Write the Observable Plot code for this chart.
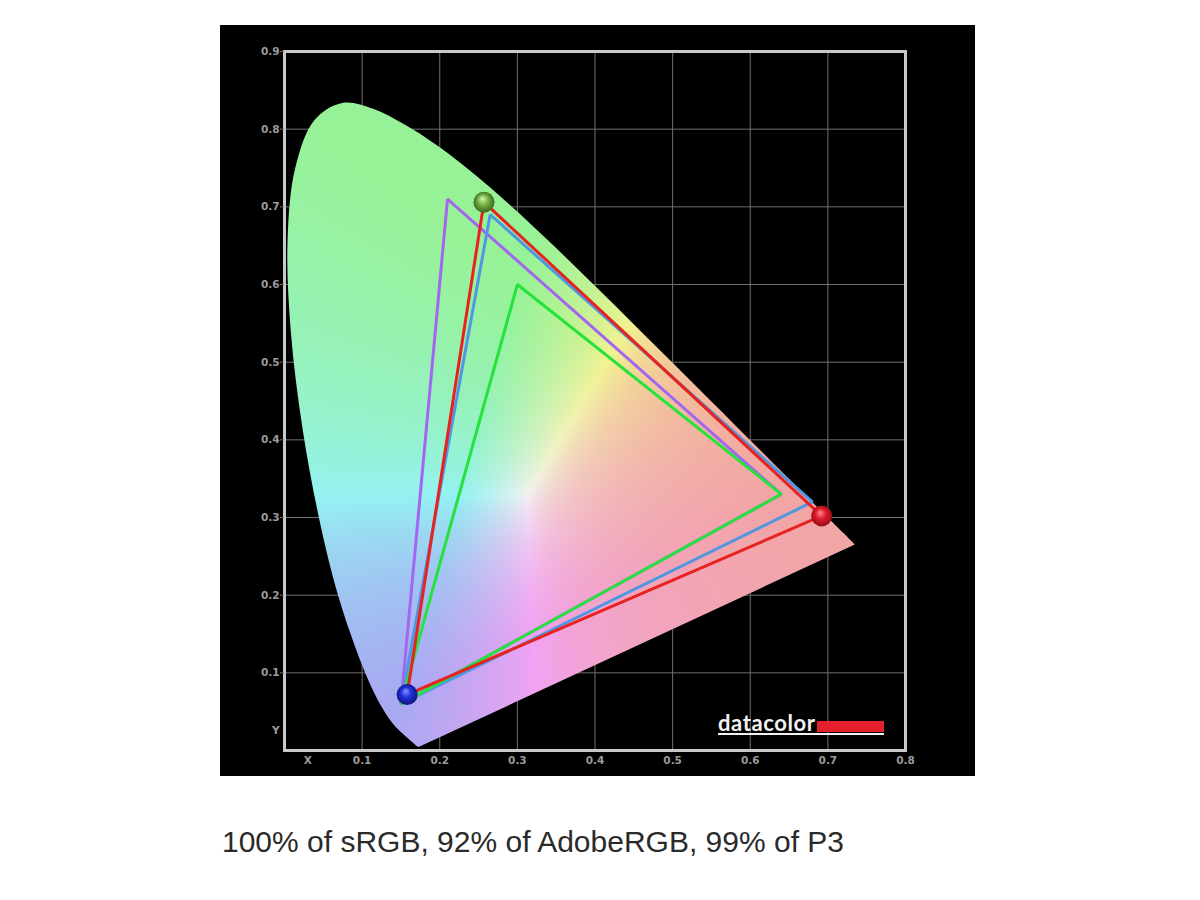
<!DOCTYPE html>
<html>
<head>
<meta charset="utf-8">
<script src="https://cdn.jsdelivr.net/npm/d3@7"></script>
<script src="https://cdn.jsdelivr.net/npm/@observablehq/plot@0.6"></script>
<style>
  html, body { margin: 0; background: #fff; }
  #chart { position: absolute; left: 220px; top: 25px; width: 755px; height: 751px; }
  .logo-word { position: absolute; left: 718px; top: 712px; font: bold 22px Lato, "DejaVu Sans", sans-serif;
               color: #f2f2f2; line-height: 22px; letter-spacing: 0.6px; white-space: nowrap; }
  .logo-bar { position: absolute; left: 817px; top: 721px; width: 67px; height: 11px; background: #e3202c; }
  .logo-rule { position: absolute; left: 718px; top: 733px; width: 166px; height: 2px; background: #f2f2f2; }
  #caption { position: absolute; left: 222px; top: 827px; font: 30px "Liberation Sans", Arial, sans-serif;
             color: #2a2a2a; line-height: 30px; white-space: nowrap; }
</style>
</head>
<body>
<div id="chart"></div>
<span class="logo-word">datacolor</span><span class="logo-bar"></span><span class="logo-rule"></span>
<div id="caption"></div>
<script>
// CIE 1931 2° spectral locus, 380–700 nm in 5 nm steps
const wavelengths = [380,385,390,395,400,405,410,415,420,425,430,435,440,445,450,455,460,465,470,475,480,485,490,495,500,505,510,515,520,525,530,535,540,545,550,555,560,565,570,575,580,585,590,595,600,605,610,615,620,625,630,635,640,645,650,655,660,665,670,675,680,685,690,695,700];
const locusX = [0.1741,0.1740,0.1738,0.1736,0.1733,0.1730,0.1726,0.1721,0.1714,0.1703,0.1689,0.1669,0.1644,0.1611,0.1566,0.1510,0.1440,0.1355,0.1241,0.1096,0.0913,0.0687,0.0454,0.0235,0.0082,0.0039,0.0139,0.0389,0.0743,0.1142,0.1547,0.1929,0.2296,0.2658,0.3016,0.3373,0.3731,0.4087,0.4441,0.4788,0.5125,0.5448,0.5752,0.6029,0.6270,0.6482,0.6658,0.6801,0.6915,0.7006,0.7079,0.7140,0.7190,0.7230,0.7260,0.7283,0.7300,0.7311,0.7320,0.7327,0.7334,0.7340,0.7344,0.7346,0.7347];
const locusY = [0.0050,0.0050,0.0049,0.0049,0.0048,0.0048,0.0048,0.0048,0.0051,0.0058,0.0069,0.0086,0.0109,0.0138,0.0177,0.0227,0.0297,0.0399,0.0578,0.0868,0.1327,0.2007,0.2950,0.4127,0.5384,0.6548,0.7502,0.8120,0.8338,0.8262,0.8059,0.7816,0.7543,0.7243,0.6923,0.6589,0.6245,0.5896,0.5547,0.5202,0.4866,0.4544,0.4242,0.3965,0.3725,0.3514,0.3340,0.3197,0.3083,0.2993,0.2920,0.2859,0.2809,0.2770,0.2740,0.2717,0.2700,0.2689,0.2680,0.2673,0.2666,0.2660,0.2656,0.2654,0.2653];

// Gamut triangles: red, green, blue primaries (x, y)
const gamutNames  = ["AdobeRGB", "P3", "sRGB", "Display"];
const gamutColors = ["#a466f0", "#4f97e2", "#26e23c", "#e8221e"];
const gamutX = [[0.64, 0.21, 0.15], [0.68, 0.265, 0.15], [0.64, 0.30, 0.15], [0.692, 0.257, 0.158]];
const gamutY = [[0.33, 0.71, 0.06], [0.32, 0.69, 0.06], [0.33, 0.60, 0.06], [0.302, 0.706, 0.072]];

// Measured display primaries, marked with spheres
const primaryNames = ["red", "green", "blue"];

// Axis ticks
const xTicks = [0.1, 0.2, 0.3, 0.4, 0.5, 0.6, 0.7, 0.8];
const yTicks = [0.1, 0.2, 0.3, 0.4, 0.5, 0.6, 0.7, 0.8, 0.9];
const xGrid = [0.1, 0.2, 0.3, 0.4, 0.5, 0.6, 0.7];
const yGrid = [0.1, 0.2, 0.3, 0.4, 0.5, 0.6, 0.7, 0.8];
const xLetterTick = [0.03];
const yLetterTick = [0.026];

const caption = "100% of sRGB, 92% of AdobeRGB, 99% of P3";

// Soft pastel colour of a chromaticity (x, y): linear sRGB with negatives clipped,
// max-normalised, then lifted towards white (darker hues lifted a little more)
function chromaColor(x, y) {
  y = Math.max(y, 0.002);
  const X = x / y, Y = 1, Z = (1 - x - y) / y;
  let r =  3.2406 * X - 1.5372 * Y - 0.4986 * Z;
  let g = -0.9689 * X + 1.8758 * Y + 0.0415 * Z;
  let b =  0.0557 * X - 0.2040 * Y + 1.0570 * Z;
  r = Math.max(0, r); g = Math.max(0, g); b = Math.max(0, b);
  const m = Math.max(r, g, b) || 1;
  r /= m; g /= m; b /= m;
  const L = 0.2126 * r + 0.7152 * g + 0.0722 * b;
  const lo = 0.56 + 0.11 * (1 - L), hi = 0.95;
  const soft = v => Math.round(255 * (lo + (hi - lo) * v));
  return `rgb(${soft(r)},${soft(g)},${soft(b)})`;
}

const triangleMarks = gamutNames.map((name, gi) =>
  Plot.line(d3.range(3), {
    x: i => gamutX[gi][i],
    y: i => gamutY[gi][i],
    curve: "linear-closed",
    stroke: gamutColors[gi],
    strokeWidth: 3,
    strokeLinejoin: "miter",
    strokeLinecap: "butt"
  })
);
const display = gamutNames.indexOf("Display");
const sphereMarks = primaryNames.map((p, i) =>
  Plot.dot([i], {
    x: j => gamutX[display][j],
    y: j => gamutY[display][j],
    r: 10.5,
    fill: `url(#sphere-${p})`,
    stroke: "none"
  })
);

const tickColor = "#6f6f6f";
const labelColor = "#9b9b9b";
const tickFont = {fill: labelColor, fontSize: 10.5, fontWeight: "bold", label: null};

const chart = Plot.plot({
  width: 755,
  height: 751,
  marginLeft: 64,
  marginRight: 70,
  marginTop: 26,
  marginBottom: 26,
  x: {domain: [0, 0.8]},
  y: {domain: [0, 0.9]},
  style: {background: "#000", fontFamily: "DejaVu Sans, sans-serif", overflow: "visible"},
  marks: [
    Plot.gridX(xGrid, {stroke: tickColor, strokeOpacity: 1, strokeWidth: 1}),
    Plot.gridY(yGrid, {stroke: tickColor, strokeOpacity: 1, strokeWidth: 1}),
    Plot.raster({x1: 0, x2: 0.8, y1: 0, y2: 0.9, pixelSize: 1, fill: chromaColor}),
    ...triangleMarks,
    ...sphereMarks,
    Plot.frame({stroke: "#c9c9c9", strokeWidth: 3}),
    Plot.axisY(yTicks, {...tickFont, tickSize: 4, tickPadding: 1, stroke: tickColor, tickFormat: d3.format(".1f")}),
    Plot.axisY(yLetterTick, {...tickFont, tickSize: 0, tickPadding: 5, tickFormat: () => "Y"}),
    Plot.axisX(xTicks, {...tickFont, tickSize: 0, tickPadding: 6, tickFormat: d3.format(".1f")}),
    Plot.axisX(xLetterTick, {...tickFont, tickSize: 0, tickPadding: 6, tickFormat: () => "X"})
  ]
});

const SVGNS = "http://www.w3.org/2000/svg";
const defs = document.createElementNS(SVGNS, "defs");

// Glossy sphere gradients for the primary markers
const sphereStops = {
  red:   ["#ff8a90", "#e01c2c", "#8a0a14"],
  green: ["#dcf8b4", "#74b244", "#35581c"],
  blue:  ["#8a90ff", "#2030d8", "#0c1070"]
};
defs.innerHTML = primaryNames.map(p => `
  <radialGradient id="sphere-${p}" cx="50%" cy="50%" r="55%" fx="42%" fy="32%">
    <stop offset="0%" stop-color="${sphereStops[p][0]}"/>
    <stop offset="45%" stop-color="${sphereStops[p][1]}"/>
    <stop offset="100%" stop-color="${sphereStops[p][2]}"/>
  </radialGradient>`).join("");

// Clip the chromaticity raster to the spectral locus, closed by the straight line of purples
const sx = chart.scale("x"), sy = chart.scale("y");
const locusLine = d3.line()
  .x((d, i) => sx.apply(locusX[i]))
  .y((d, i) => sy.apply(locusY[i]))
  .curve(d3.curveCatmullRom.alpha(0.5));
const clip = document.createElementNS(SVGNS, "clipPath");
clip.setAttribute("id", "locus-clip");
const clipPath = document.createElementNS(SVGNS, "path");
clipPath.setAttribute("d", locusLine(wavelengths) + "Z");
clip.append(clipPath);
defs.append(clip);
chart.prepend(defs);

const rasterImage = chart.querySelector("image");
if (rasterImage) rasterImage.parentNode.setAttribute("clip-path", "url(#locus-clip)");

document.getElementById("chart").append(chart);
document.getElementById("caption").textContent = caption;
</script>
</body>
</html>
